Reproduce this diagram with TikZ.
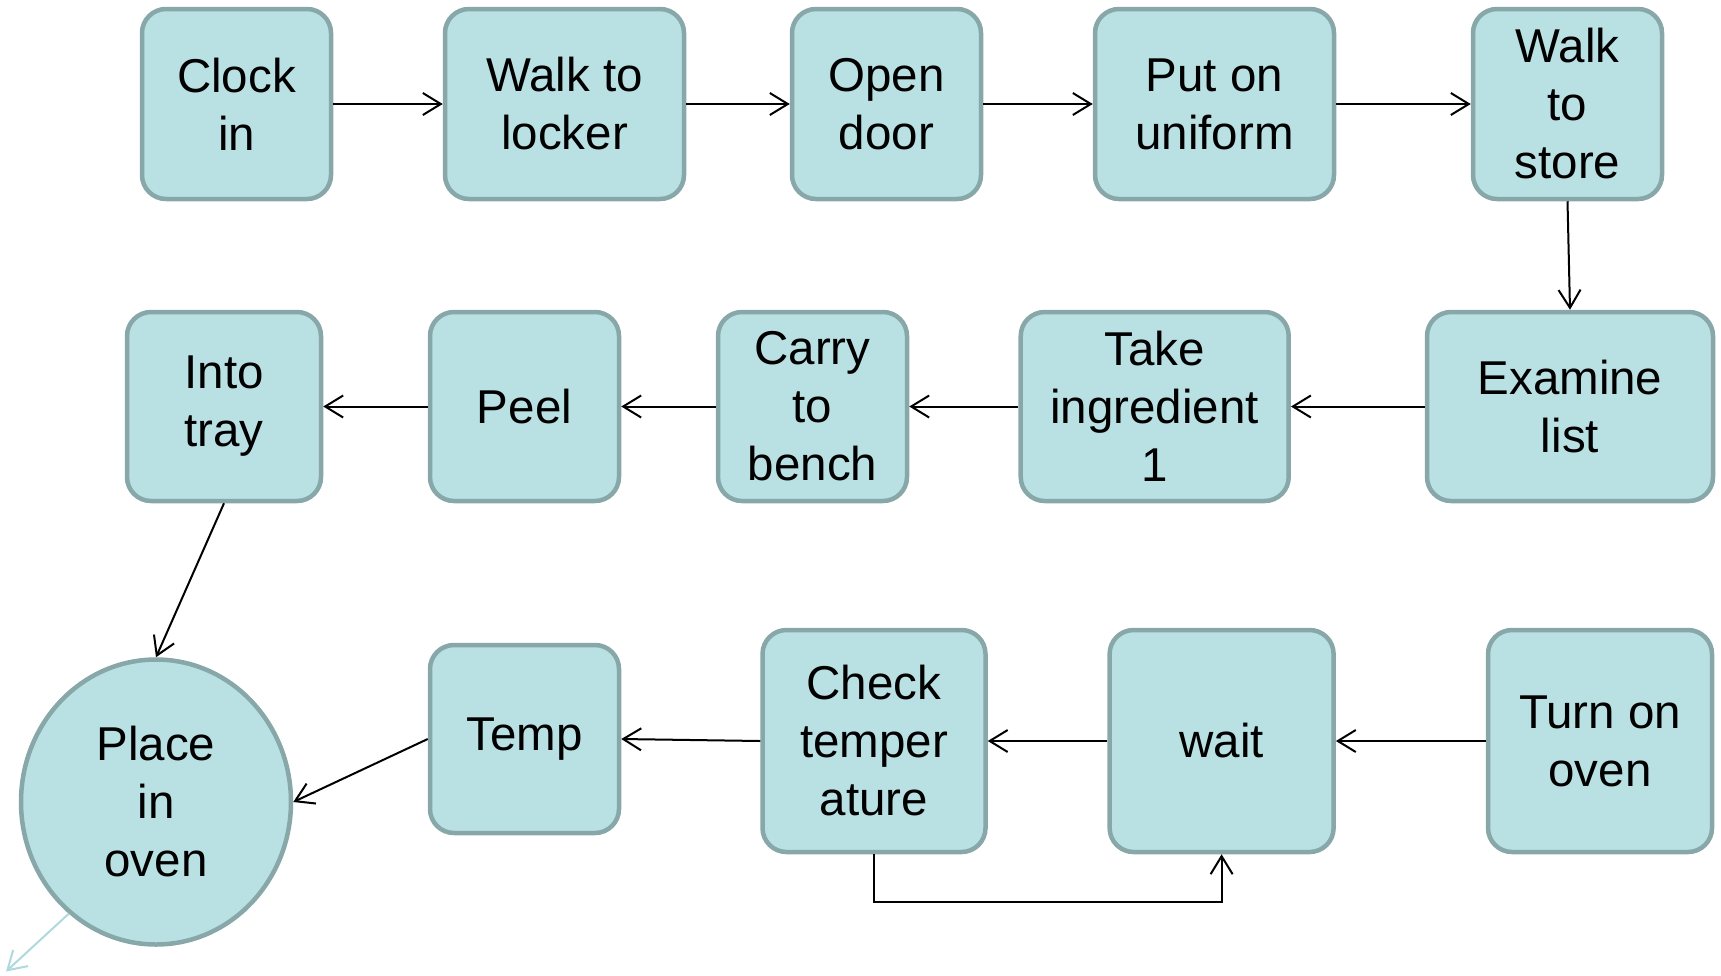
\documentclass[tikz,border=0pt]{standalone}
\usepackage{fontspec}
\setmainfont{Liberation Sans}
\usetikzlibrary{arrows.meta,shapes.geometric}
\definecolor{boxfill}{HTML}{B9E0E3}
\definecolor{boxline}{HTML}{87A7A9}
\definecolor{lightarrow}{HTML}{AED9DE}
\begin{document}
\begin{tikzpicture}[x=1pt,y=-1pt,
  stepbox/.style={draw=boxline,fill=boxfill,line width=4.5pt,rounded corners=24pt,
    inner sep=0pt,align=center,font=\fontsize{47.5pt}{58pt}\selectfont},
  roundbox/.style={draw=boxline,fill=boxfill,line width=4.5pt,ellipse,
    inner sep=0pt,align=center,font=\fontsize{47.5pt}{58pt}\selectfont},
  conn/.style={line width=2pt,-{Straight Barb[length=18pt,width=22pt,line width=2pt]}}]
\useasboundingbox (0,0) rectangle (1721,975);
% row 1
\node[stepbox,minimum width=189pt,minimum height=190pt] (clock) at (236.5,104) {Clock\\in};
\node[stepbox,minimum width=239pt,minimum height=190pt] (locker) at (564.5,104) {Walk to\\locker};
\node[stepbox,minimum width=189pt,minimum height=190pt] (door) at (886.5,104) {Open\\door};
\node[stepbox,minimum width=239pt,minimum height=190pt] (uniform) at (1214.5,104) {Put on\\uniform};
\node[stepbox,minimum width=189pt,minimum height=190pt] (store) at (1567.5,104) {Walk\\to\\store};
% row 2
\node[stepbox,minimum width=194pt,minimum height=189pt] (tray) at (224,406.5) {Into\\tray};
\node[stepbox,minimum width=189pt,minimum height=189pt] (peel) at (524.5,406.5) {Peel};
\node[stepbox,minimum width=189pt,minimum height=189pt] (carry) at (812.5,406.5) {Carry\\to\\bench};
\node[stepbox,minimum width=268pt,minimum height=189pt] (take) at (1154.7,406.5) {Take\\ingredient\\1};
\node[stepbox,minimum width=286pt,minimum height=189pt] (examine) at (1570,406.5) {Examine\\list};
% row 3
\node[roundbox,minimum width=270pt,minimum height=285pt] (place) at (156,802) {Place\\in\\oven};
\node[stepbox,minimum width=189pt,minimum height=188pt] (temp) at (524.5,739) {Temp};
\node[stepbox,minimum width=223pt,minimum height=222pt] (check) at (874,741) {Check\\temper\\ature};
\node[stepbox,minimum width=224pt,minimum height=222pt] (wait) at (1221.6,741) {wait};
\node[stepbox,minimum width=224pt,minimum height=222pt] (oven) at (1600,741) {Turn on\\oven};
\coordinate (free) at (6,971.5);
% connectors
\draw[conn] (clock.east) -- (locker.west);
\draw[conn] (locker.east) -- (door.west);
\draw[conn] (door.east) -- (uniform.west);
\draw[conn] (uniform.east) -- (store.west);
\draw[conn] (store.south) -- (examine.north);
\draw[conn] (examine.west) -- (take.east);
\draw[conn] (take.west) -- (carry.east);
\draw[conn] (carry.west) -- (peel.east);
\draw[conn] (peel.west) -- (tray.east);
\draw[conn] (tray.south) -- (place.north);
\draw[conn] (oven.west) -- (wait.east);
\draw[conn] (wait.west) -- (check.east);
\draw[conn] (check.west) -- (temp.east);
\draw[conn] (temp.west) -- (place.east);
\draw[conn] (check.south) -- ++(0,48) -| (wait.south);
\draw[line width=2pt,draw=lightarrow,-{Straight Barb[length=18pt,width=22pt,line width=2pt]}] (place.-128) -- (free);
\end{tikzpicture}
\end{document}
